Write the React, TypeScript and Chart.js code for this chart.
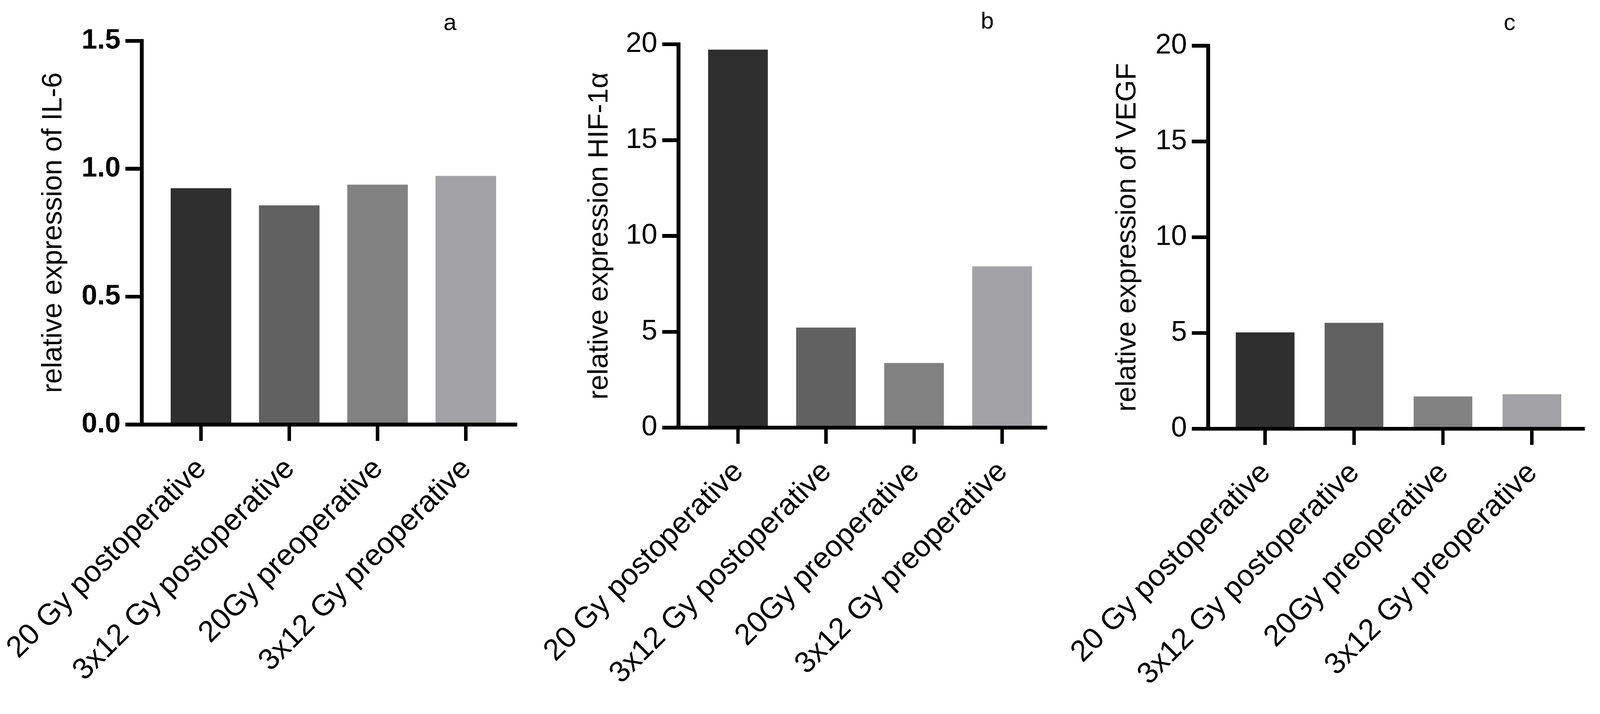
import React, { useEffect, useRef } from 'react';
import { Chart, registerables } from 'chart.js';

Chart.register(...registerables);

// ---------- data ----------
const CATEGORIES = ['20 Gy postoperative', '3x12 Gy postoperative', '20Gy preoperative', '3x12 Gy preoperative'];
const IL6_VALUES = [0.924, 0.857, 0.938, 0.972];
const HIF_VALUES = [19.72, 5.22, 3.37, 8.41];
const VEGF_VALUES = [5.03, 5.53, 1.68, 1.8];
const IL6_TICKS = [0, 0.5, 1.0, 1.5];
const HIF_TICKS = [0, 5, 10, 15, 20];
const VEGF_TICKS = [0, 5, 10, 15, 20];
const AXIS_TITLES = ['relative expression of IL-6', 'relative expression HIF-1α', 'relative expression of VEGF'];
const PANEL_LETTERS = ['a', 'b', 'c'];
const BAR_COLORS = ['#2f2f2f', '#616161', '#818181', '#a2a1a5'];

// ---------- layout / style ----------
const W = 4228;
const H = 1828;
const FONT = '"Liberation Sans", Arial, sans-serif';

type Panel = {
  values: number[];
  yTicks: number[];
  decimals: number;
  bold: boolean;
  title: string;
  letter: string;
  canvasLeft: number;
  canvasWidth: number;
  area: { left: number; top: number; right: number; bottom: number };
  firstTick: number;
  lastTick: number;
  barPct: number;
  titleX: number;
  letterX: number;
  letterY: number;
};

const PANELS: Panel[] = [
  {
    values: IL6_VALUES, yTicks: IL6_TICKS, decimals: 1, bold: true,
    title: AXIS_TITLES[0], letter: PANEL_LETTERS[0],
    canvasLeft: 0, canvasWidth: 1420,
    area: { left: 374.5, top: 108, right: 1362, bottom: 1122 },
    firstTick: 531, lastTick: 1231, barPct: 0.686, titleX: 142,
    letterX: 1189, letterY: 62,
  },
  {
    values: HIF_VALUES, yTicks: HIF_TICKS, decimals: 0, bold: false,
    title: AXIS_TITLES[1], letter: PANEL_LETTERS[1],
    canvasLeft: 1300, canvasWidth: 1530,
    area: { left: 1793, top: 117, right: 2762, bottom: 1130 },
    firstTick: 1950, lastTick: 2648, barPct: 0.678, titleX: 1585,
    letterX: 2609, letterY: 58,
  },
  {
    values: VEGF_VALUES, yTicks: VEGF_TICKS, decimals: 0, bold: false,
    title: AXIS_TITLES[2], letter: PANEL_LETTERS[2],
    canvasLeft: 2700, canvasWidth: 1528,
    area: { left: 3192.5, top: 121, right: 4183, bottom: 1133 },
    firstTick: 3343, lastTick: 4048, barPct: 0.66, titleX: 2980,
    letterX: 3989, letterY: 62,
  },
];

const TICK_LEN = 43;
const AXIS_W = 10;
const TITLE_SIZE = 74;

function PanelChart({ p }: { p: Panel }) {
  const ref = useRef<HTMLCanvasElement>(null);
  useEffect(() => {
    const canvas = ref.current;
    if (!canvas) return;
    const n = CATEGORIES.length;
    const spacing = (p.lastTick - p.firstTick) / (n - 1);
    const xMin = (p.area.left - p.firstTick) / spacing;
    const xMax = n - 1 + (p.area.right - p.lastTick) / spacing;
    const chart = new Chart(canvas, {
      type: 'bar',
      data: {
        datasets: [
          {
            data: p.values.map((v, i) => ({ x: i, y: v })),
            backgroundColor: BAR_COLORS,
            borderWidth: 0,
            categoryPercentage: 1,
            barPercentage: p.barPct,
          } as any,
        ],
      },
      options: {
        animation: false,
        responsive: false,
        devicePixelRatio: 2,
        layout: {
          padding: { left: 0, top: p.area.top, right: p.canvasLeft + p.canvasWidth - p.area.right, bottom: 0 },
        },
        plugins: { legend: { display: false }, tooltip: { enabled: false }, title: { display: false } },
        scales: {
          x: {
            type: 'linear',
            min: xMin,
            max: xMax,
            offset: false,
            afterBuildTicks: (s: any) => {
              s.ticks = CATEGORIES.map((_, i) => ({ value: i }));
            },
            afterFit: (s: any) => {
              s.height = H - p.area.bottom;
              s.paddingLeft = 0;
              s.paddingRight = 0;
            },
            grid: {
              display: true, offset: false, drawOnChartArea: false, drawTicks: true,
              tickLength: TICK_LEN, tickWidth: 9, tickColor: '#000', color: '#000', lineWidth: AXIS_W,
            },
            border: { display: true, color: '#000', width: AXIS_W, z: 1 },
            ticks: {
              autoSkip: false, minRotation: 45, maxRotation: 45, padding: 28, labelOffset: 2,
              color: '#000', font: { family: FONT, size: 79 },
              callback: (v: any) => CATEGORIES[Math.round(Number(v))] ?? '',
            },
          },
          y: {
            type: 'linear',
            min: p.yTicks[0],
            max: p.yTicks[p.yTicks.length - 1],
            afterBuildTicks: (s: any) => {
              s.ticks = p.yTicks.map((v) => ({ value: v }));
            },
            afterFit: (s: any) => {
              s.width = p.area.left - p.canvasLeft;
              s.paddingTop = 0;
              s.paddingBottom = 0;
            },
            grid: {
              display: true, drawOnChartArea: false, drawTicks: true,
              tickLength: TICK_LEN, tickWidth: AXIS_W, tickColor: '#000', color: '#000', lineWidth: AXIS_W,
            },
            border: { display: true, color: '#000', width: AXIS_W, z: 1 },
            ticks: {
              padding: 13, color: '#000',
              font: { family: FONT, size: p.bold ? 74 : 75, weight: p.bold ? 'bold' : 'normal' },
              callback: (v: any) => Number(v).toFixed(p.decimals),
            },
            title: {
              display: true, text: p.title, color: '#000',
              font: { family: FONT, size: TITLE_SIZE, lineHeight: 1 },
              padding: { top: p.titleX - p.canvasLeft - TITLE_SIZE / 2, bottom: 0 },
            },
          },
        },
      } as any,
    });
    return () => chart.destroy();
  }, [p]);
  return (
    <canvas
      ref={ref}
      style={{ position: 'absolute', left: p.canvasLeft, top: 0, width: p.canvasWidth, height: H, display: 'block' }}
      width={p.canvasWidth}
      height={H}
    />
  );
}

export default function App() {
  const vw = typeof window !== 'undefined' && window.innerWidth ? window.innerWidth : W;
  const s = vw / W;
  return (
    <div
      style={{
        position: 'absolute', left: 0, top: 0, width: W, height: H, background: '#fff', overflow: 'hidden',
        transform: `scale(${s})`, transformOrigin: '0 0',
      }}
    >
      {PANELS.map((p, i) => (
        <PanelChart key={i} p={p} />
      ))}
      {PANELS.map((p, i) => (
        <div
          key={'l' + i}
          style={{
            position: 'absolute', left: p.letterX, top: p.letterY - 4,
            transform: 'translate(-50%, -50%)', fontFamily: FONT, fontSize: 62, lineHeight: 1, color: '#000',
          }}
        >
          {p.letter}
        </div>
      ))}
    </div>
  );
}
